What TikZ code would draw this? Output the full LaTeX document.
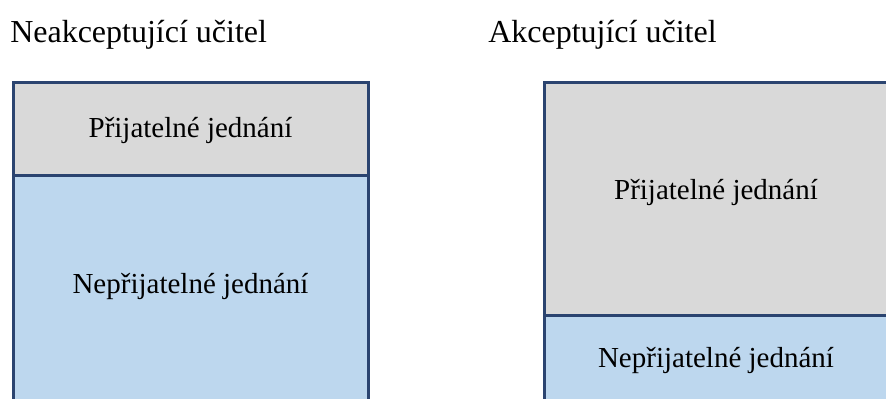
\documentclass[tikz,border=0pt]{standalone}
\usepackage{fontspec}
\setmainfont{Liberation Serif}
\definecolor{border}{HTML}{2B4470}
\definecolor{grayfill}{HTML}{D9D9D9}
\definecolor{bluefill}{HTML}{BDD7EE}
\tikzset{
  title/.style={anchor=base west, inner sep=0pt, font=\fontsize{24}{28}\selectfont},
  label/.style={inner sep=0pt, font=\fontsize{21.75}{26}\selectfont},
  part/.style={draw=border, line width=2.25pt}
}
\begin{document}
\begin{tikzpicture}[x=0.75pt,y=-0.75pt]
\useasboundingbox (0,0) rectangle (886,399);
\clip (0,0) rectangle (886,399);
% titles
\node[title] (t1) at (10,43) {Neakceptující učitel};
\node[title] (t2) at (488,43) {Akceptující učitel};
% left box
\path[part, fill=bluefill] (13,176) rectangle (368,410);
\path[part, fill=grayfill] (13,82.5) rectangle (368,176);
\node[label] (l1) at (190.5,130) {Přijatelné jednání};
\node[label] (l2) at (190.5,286) {Nepřijatelné jednání};
% right box
\path[part, fill=bluefill] (544,315) rectangle (889,410);
\path[part, fill=grayfill] (544,82.5) rectangle (889,315);
\node[label] (r1) at (716,192) {Přijatelné jednání};
\node[label] (r2) at (716,360) {Nepřijatelné jednání};
\end{tikzpicture}
\end{document}
